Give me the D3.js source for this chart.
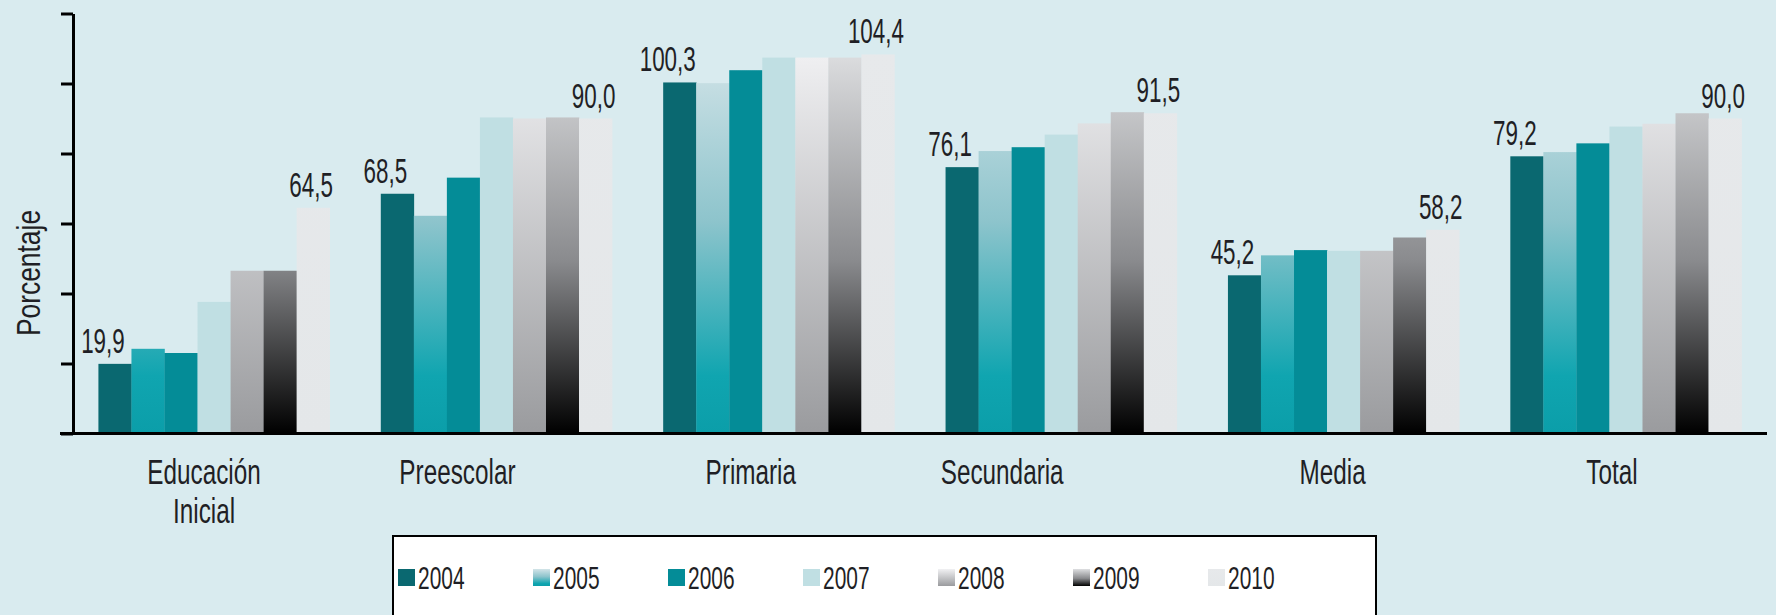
<!DOCTYPE html>
<html>
<head>
<meta charset="utf-8">
<script src="https://cdn.jsdelivr.net/npm/d3@7"></script>
<style>
  body { margin: 0; background: #d9ebef; }
  text { font-family: "Liberation Sans", Arial, sans-serif; fill: #1f1f25; }
</style>
</head>
<body>
<svg id="chart" width="1776" height="615"></svg>
<script>
const categories = ["Educación Inicial", "Preescolar", "Primaria", "Secundaria", "Media", "Total"];
const categoryLines = [["Educación", "Inicial"], ["Preescolar"], ["Primaria"], ["Secundaria"], ["Media"], ["Total"]];
const years = ["2004", "2005", "2006", "2007", "2008", "2009", "2010"];

// percentages
const values2004 = [19.9, 68.5, 100.3, 76.1, 45.2, 79.2];
const values2005 = [24.2, 62.2, 100.1, 80.7, 50.9, 80.4];
const values2006 = [23.0, 73.1, 103.8, 81.8, 52.4, 82.9];
const values2007 = [37.6, 90.3, 107.4, 85.4, 52.2, 87.7];
const values2008 = [46.5, 90.0, 107.4, 88.6, 52.2, 88.5];
const values2009 = [46.5, 90.3, 107.4, 91.8, 56.0, 91.5];
const values2010 = [64.5, 90.0, 108.3, 91.5, 58.2, 90.0];

// printed labels (first and last year of each group)
const labels2004 = ["19,9", "68,5", "100,3", "76,1", "45,2", "79,2"];
const labels2010 = ["64,5", "90,0", "104,4", "91,5", "58,2", "90,0"];

const yTicks = [0, 20, 40, 60, 80, 100, 120];

const series = [values2004, values2005, values2006, values2007, values2008, values2009, values2010];

const WIDTH = 1776;
const HEIGHT = 615;
const AXIS_X = 73;
// the original uses a condensed face; squeeze Liberation Sans to match
const SQUEEZE = 0.64;
// category labels are not centred under the groups in the original
const LABEL_NUDGE = [-10, -39, -28, -59, -11, -14];

const svg = d3.select("#chart");

svg.append("rect")
  .attr("width", WIDTH)
  .attr("height", HEIGHT)
  .attr("fill", "#d9ebef");

const x0 = d3.scaleBand()
  .domain(categories)
  .range([AXIS_X, 1767])
  .paddingInner(0.181)
  .paddingOuter(0.09);

const x1 = d3.scaleBand()
  .domain(years)
  .range([0, x0.bandwidth()]);

const y = d3.scaleLinear()
  .domain([0, 120])
  .range([433.5, 13.5]);

// gradients: the shaded series are shaded over the whole plot height
const defs = svg.append("defs");

const fills = {
  "2004": [["0", "#0a6870"], ["1", "#0a6870"]],
  "2005": [["0", "#d3e4e8"], ["0.45", "#8dc4cc"], ["0.85", "#10a5b0"], ["1", "#0b9ea9"]],
  "2006": [["0", "#048c97"], ["1", "#048c97"]],
  "2007": [["0", "#c0dfe3"], ["1", "#c0dfe3"]],
  "2008": [["0", "#f1f1f3"], ["1", "#9a9b9e"]],
  "2009": [["0", "#dedfe1"], ["0.55", "#8a8b8e"], ["1", "#000000"]],
  "2010": [["0", "#e7e9eb"], ["1", "#e4e7e9"]]
};

years.forEach((yr) => {
  // plot gradient
  let g = defs.append("linearGradient")
    .attr("id", "g" + yr)
    .attr("gradientUnits", "userSpaceOnUse")
    .attr("x1", 0).attr("x2", 0)
    .attr("y1", y(110)).attr("y2", y(0));
  g.selectAll("stop")
    .data(fills[yr])
    .join("stop")
    .attr("offset", (d) => d[0])
    .attr("stop-color", (d) => d[1]);

  // legend swatch gradient
  let lg = defs.append("linearGradient")
    .attr("id", "lg" + yr)
    .attr("x1", 0).attr("x2", 0)
    .attr("y1", 0).attr("y2", 1);
  lg.selectAll("stop")
    .data(fills[yr])
    .join("stop")
    .attr("offset", (d) => d[0])
    .attr("stop-color", (d) => d[1]);
});

// bars
const barData = [];
series.forEach((vals, s) => {
  vals.forEach((v, i) => {
    barData.push({ cat: categories[i], year: years[s], value: v });
  });
});

svg.append("g")
  .selectAll("rect")
  .data(barData)
  .join("rect")
  .attr("x", (d) => x0(d.cat) + x1(d.year))
  .attr("y", (d) => y(d.value))
  .attr("width", x1.bandwidth() + 0.3)
  .attr("height", (d) => y(0) - y(d.value))
  .attr("fill", (d) => `url(#g${d.year})`);

// value labels
const labelData = [];
categories.forEach((c, i) => {
  labelData.push({ cat: c, year: "2004", value: values2004[i], text: labels2004[i], dx: -12 });
  labelData.push({ cat: c, year: "2010", value: values2010[i], text: labels2010[i], dx: -2 });
});

svg.append("g")
  .selectAll("text")
  .data(labelData)
  .join("text")
  .attr("transform", (d) => {
    let lx = x0(d.cat) + x1(d.year) + x1.bandwidth() / 2 + d.dx;
    return `translate(${lx},${y(d.value) - 11}) scale(${SQUEEZE},1)`;
  })
  .attr("text-anchor", "middle")
  .style("font-size", "35px")
  .text((d) => d.text);

// y axis, no tick labels
const yAxis = svg.append("g")
  .attr("transform", `translate(${AXIS_X},0)`)
  .call(d3.axisLeft(y).tickValues(yTicks).tickSize(12).tickSizeOuter(0).tickFormat(""));

yAxis.selectAll("path, line")
  .attr("stroke", "#000")
  .attr("stroke-width", 3);

// baseline
svg.append("line")
  .attr("x1", AXIS_X - 13)
  .attr("x2", 1767)
  .attr("y1", y(0))
  .attr("y2", y(0))
  .attr("stroke", "#000")
  .attr("stroke-width", 3);

svg.append("text")
  .attr("transform", `translate(40, 273) rotate(-90) scale(0.8,1)`)
  .attr("text-anchor", "middle")
  .style("font-size", "33px")
  .text("Porcentaje");

// category labels
const catLabels = svg.append("g")
  .selectAll("text")
  .data(categories)
  .join("text")
  .attr("text-anchor", "middle")
  .attr("transform", (d, i) => `translate(${x0(d) + x0.bandwidth() / 2 + LABEL_NUDGE[i]}, 484) scale(0.675,1)`)
  .style("font-size", "36px");

catLabels.selectAll("tspan")
  .data((d, i) => categoryLines[i])
  .join("tspan")
  .attr("x", 0)
  .attr("dy", (d, j) => (j === 0 ? 0 : 39))
  .text((d) => d);

// legend
const legend = svg.append("g");

legend.append("rect")
  .attr("x", 393)
  .attr("y", 536)
  .attr("width", 983)
  .attr("height", 100)
  .attr("fill", "#ffffff")
  .attr("stroke", "#000")
  .attr("stroke-width", 2);

const legendX = d3.scaleBand()
  .domain(years)
  .range([398, 398 + 7 * 135]);

const items = legend.selectAll("g.item")
  .data(years)
  .join("g")
  .attr("class", "item")
  .attr("transform", (d) => `translate(${legendX(d)}, 578)`);

items.append("rect")
  .attr("x", 0)
  .attr("y", -9)
  .attr("width", 17)
  .attr("height", 17)
  .attr("fill", (d) => `url(#lg${d})`);

items.append("text")
  .attr("transform", "translate(20, 11) scale(0.675,1)")
  .style("font-size", "31px")
  .text((d) => d);
</script>
</body>
</html>
